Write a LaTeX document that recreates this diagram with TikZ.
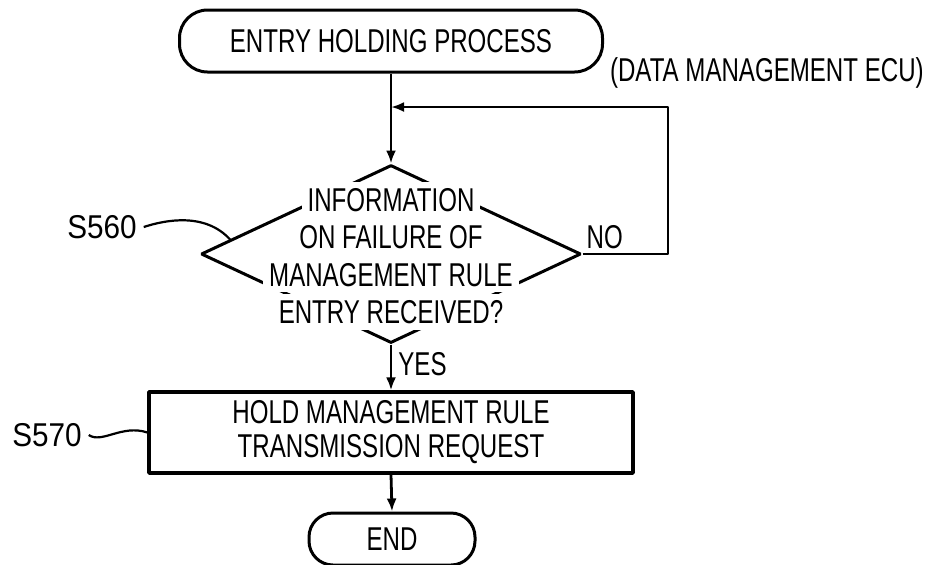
\documentclass[tikz,border=0pt]{standalone}
\usepackage{fontspec}
\setmainfont{Liberation Sans}[FakeStretch=0.73]
\newfontfamily\labfont{Liberation Sans}[FakeStretch=0.9]
\usetikzlibrary{arrows.meta,shapes.geometric,calc}
\setlength{\fboxsep}{3pt}
\newcommand{\gapline}[1]{\colorbox{white}{#1}}
\begin{document}
\begin{tikzpicture}[x=0.5pt,y=-0.5pt,>={Latex[length=6.5pt,width=5pt]},line join=bevel,
  every node/.style={font=\fontsize{16.5}{17}\selectfont},
  term/.style={draw,line width=1.5pt,rounded corners=14pt,inner sep=0pt},
  proc/.style={draw,line width=1.6pt,minimum width=242pt,minimum height=40.5pt,align=center,inner sep=0pt},
  decision/.style={draw,diamond,line width=1.5pt,minimum width=190pt,minimum height=89pt,inner sep=0pt},
  steplabel/.style={font=\labfont\fontsize{16.5}{18}\selectfont}]
\useasboundingbox (0,0) rectangle (926,564);
%%
  \node (node_0) at (391,41) [term,minimum width=211.5pt,minimum height=31pt] {ENTRY HOLDING PROCESS};
  \node (node_ecu) at (603,73) [anchor=west] {(DATA MANAGEMENT ECU)};
  \node (node_1) at (391,254) [decision] {};
  \node (node_1t) at (391,256) [align=center,inner sep=0pt] {\gapline{INFORMATION}\\\gapline{ON FAILURE OF}\\\gapline{MANAGEMENT RULE}\\\gapline{ENTRY RECEIVED?}};
  \node (node_2) at (391,432.5) [proc] {HOLD MANAGEMENT RULE\\TRANSMISSION REQUEST};
  \node (node_3) at (392,539) [term,minimum width=83pt,minimum height=26pt,rounded corners=12pt] {END};
  \node (lab_1) at (102,227) [steplabel] {S560};
  \node (lab_2) at (47,435) [steplabel] {S570};
  \coordinate (join_0) at (391,107);
  \coordinate (corner_0) at (668,107);
  \coordinate (tip_1) at ($(node_1.west)!0.16!(node_1.north)$);

  \draw [black,line width=1.4pt,->] (node_0.south) -- (node_1.north);
  \draw [black,line width=1.4pt,->] (node_1.east) -| node[pos=0.13,above,inner sep=2pt] {NO} (corner_0) -- (join_0);
  \draw [black,line width=1.4pt,->] (node_1.south) -- node[pos=0.42,right,inner sep=3pt] {YES} (node_2.north);
  \draw [black,line width=1.4pt,->] (node_2.south) -- (node_3.north);
  \draw [black,line width=1.1pt] (lab_1.east) .. controls (165,220) and (205,212) .. (tip_1);
  \draw [black,line width=1.1pt] (lab_2.east) .. controls (102,444) and (122,424) .. (node_2.west);
%
\end{tikzpicture}
\end{document}
